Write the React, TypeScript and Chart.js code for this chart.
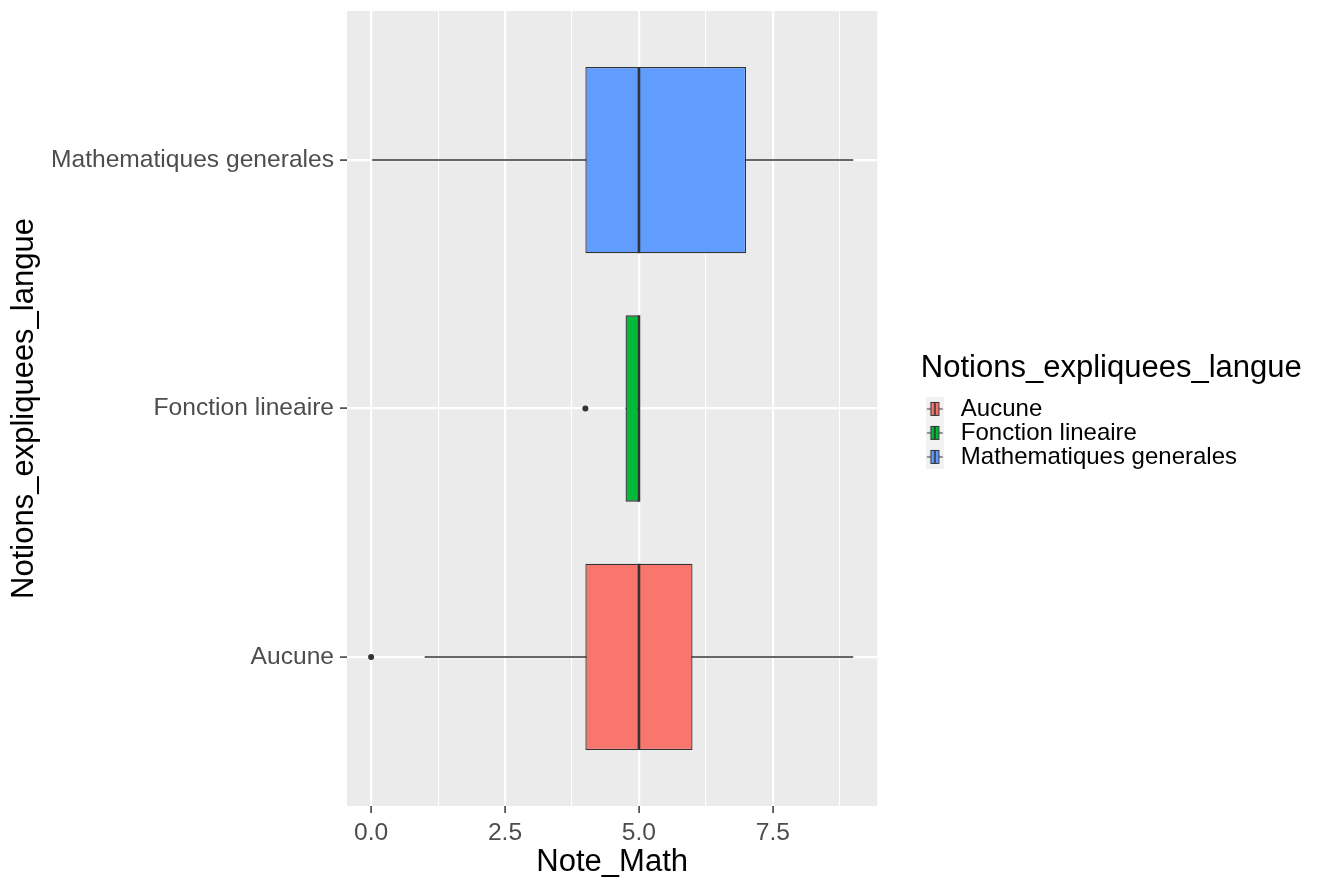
import React, { useEffect, useRef } from 'react';
import { Chart, registerables } from 'chart.js';

Chart.register(...registerables);

// ---- data ----
const categories = ['Aucune', 'Fonction lineaire', 'Mathematiques generales'];
const whiskerLow = [1, 4.75, 0];
const q1 = [4, 4.75, 4];
const median = [5, 5, 5];
const q3 = [6, 5, 7];
const whiskerHigh = [9, 5, 9];
const outlierCategory = [0, 1];
const outlierValue = [0, 4];
const fillColors = ['#F8766D', '#00BA38', '#619CFF'];
const xMajorTicks = [0, 2.5, 5, 7.5];
const xMinorTicks = [1.25, 3.75, 6.25, 8.75];
const xTickLabels = ['0.0', '2.5', '5.0', '7.5'];

const FONT = "'Liberation Sans', Arial, Helvetica, sans-serif";
const TEXT_SIZE = 24.6;
const TITLE_SIZE = 31;
const BOX_FRACTION = 0.75;

function makeKey(color: string): HTMLCanvasElement {
  const c = document.createElement('canvas');
  c.width = 18;
  c.height = 24;
  const g = c.getContext('2d')!;
  g.fillStyle = '#f2f2f2';
  g.fillRect(0, 0, 18, 24);
  g.strokeStyle = '#333333';
  g.lineWidth = 1;
  g.beginPath();
  g.moveTo(1, 12);
  g.lineTo(17, 12);
  g.stroke();
  g.fillStyle = color;
  g.fillRect(5, 5.5, 8, 13);
  g.strokeRect(5, 5.5, 8, 13);
  g.lineWidth = 1.6;
  g.beginPath();
  g.moveTo(9, 5.5);
  g.lineTo(9, 18.5);
  g.stroke();
  return c;
}

const panelBackground = {
  id: 'panelBackground',
  beforeDraw(chart: any) {
    const { ctx, chartArea } = chart;
    ctx.save();
    ctx.fillStyle = '#ebebeb';
    ctx.fillRect(chartArea.left, chartArea.top, chartArea.right - chartArea.left, chartArea.bottom - chartArea.top);
    ctx.restore();
  },
};

// let the legend title run past the item column (as in ggplot)
const widenLegend = {
  id: 'widenLegend',
  afterLayout(chart: any) {
    const lg = chart.legend;
    if (lg) {
      lg.right = chart.width;
      lg.width = chart.width - lg.left;
    }
  },
};

export default function App() {
  const ref = useRef<HTMLCanvasElement>(null);

  useEffect(() => {
    if (!ref.current) return;
    const keys = fillColors.map(makeKey);
    const isMajor = (v: number) => xMajorTicks.includes(v);
    const halfBox = (ctx: any) => {
      const s = ctx.chart.scales.y;
      return Math.abs(s.getPixelForValue(1) - s.getPixelForValue(0)) * BOX_FRACTION / 2;
    };

    const chart = new Chart(ref.current, {
      type: 'bar',
      data: {
        datasets: [
          {
            type: 'scatter',
            label: 'outliers',
            data: outlierValue.map((v, i) => ({ x: v, y: outlierCategory[i] })),
            pointRadius: 3,
            pointBackgroundColor: '#333333',
            pointBorderWidth: 0,
            order: 0,
          } as any,
          {
            type: 'scatter',
            label: 'medians',
            data: median.map((v, i) => ({ x: v, y: i })),
            pointStyle: 'line',
            rotation: 90,
            pointRadius: halfBox,
            pointBorderColor: '#333333',
            pointBorderWidth: 2.6,
            order: 0,
          } as any,
          {
            label: 'box',
            data: categories.map((_, i) => ({ y: i, x: [q1[i], q3[i]] })),
            backgroundColor: fillColors,
            borderColor: '#333333',
            borderWidth: 1.3,
            borderSkipped: false,
            barPercentage: BOX_FRACTION,
            categoryPercentage: 1,
            grouped: false,
            order: 1,
          },
          {
            label: 'whiskers',
            data: categories.map((_, i) => ({ y: i, x: [whiskerLow[i], whiskerHigh[i]] })),
            backgroundColor: '#333333',
            borderWidth: 0,
            inflateAmount: 0,
            barThickness: 1.5,
            grouped: false,
            order: 2,
          },
        ],
      },
      options: {
        indexAxis: 'y',
        responsive: false,
        animation: false,
        events: [],
        layout: { padding: { top: 11, right: 74, bottom: 0, left: 0 } },
        font: { family: FONT },
        scales: {
          x: {
            type: 'linear',
            min: -0.45,
            max: 9.45,
            beginAtZero: false,
            afterBuildTicks: (scale: any) => {
              scale.ticks = [...xMajorTicks, ...xMinorTicks].sort((a, b) => a - b).map((v) => ({ value: v }));
            },
            afterFit: (scale: any) => {
              scale.height = 76;
              scale.paddingLeft = 0;
              scale.paddingRight = 0;
            },
            ticks: {
              autoSkip: false,
              maxRotation: 0,
              padding: 5.6,
              color: '#4d4d4d',
              font: { family: FONT, size: TEXT_SIZE },
              callback: (v: any) => {
                const idx = xMajorTicks.indexOf(Number(v));
                return idx >= 0 ? xTickLabels[idx] : '';
              },
            },
            grid: {
              color: '#ffffff',
              lineWidth: (ctx: any) => (ctx.tick && isMajor(ctx.tick.value) ? 2.2 : 1.1),
              tickColor: (ctx: any) => (ctx.tick && isMajor(ctx.tick.value) ? '#333333' : 'rgba(0,0,0,0)'),
              tickLength: 7,
              tickWidth: 1.5,
            },
            border: { display: false },
            title: {
              display: true,
              text: 'Note_Math',
              color: '#000000',
              font: { family: FONT, size: TITLE_SIZE },
              padding: { top: 0, bottom: 1 },
            },
          },
          y: {
            type: 'linear',
            min: -0.6,
            max: 2.6,
            offset: false,
            beginAtZero: false,
            afterBuildTicks: (scale: any) => {
              scale.ticks = categories.map((_, i) => ({ value: i }));
            },
            afterFit: (scale: any) => {
              scale.width = 347;
              scale.paddingTop = 0;
              scale.paddingBottom = 0;
            },
            ticks: {
              autoSkip: false,
              padding: 6,
              color: '#4d4d4d',
              font: { family: FONT, size: TEXT_SIZE },
              callback: (v: any) => categories[Number(v)] ?? '',
            },
            grid: {
              offset: false,
              color: '#ffffff',
              lineWidth: 2.2,
              tickColor: '#333333',
              tickLength: 7,
              tickWidth: 1.5,
            },
            border: { display: false },
            title: {
              display: true,
              text: 'Notions_expliquees_langue',
              color: '#000000',
              font: { family: FONT, size: TITLE_SIZE },
              padding: { top: 5.5, bottom: 0 },
            },
          },
          gap: {
            type: 'linear',
            position: 'right',
            display: true,
            grid: { display: false, drawTicks: false },
            ticks: { display: false },
            border: { display: false },
            afterFit: (scale: any) => {
              scale.width = 43.5;
              scale.paddingTop = 0;
              scale.paddingBottom = 0;
            },
          },
        },
        plugins: {
          tooltip: { enabled: false },
          legend: {
            display: true,
            position: 'right',
            align: 'start',
            maxWidth: 600,
            title: {
              display: true,
              text: 'Notions_expliquees_langue',
              color: '#000000',
              position: 'start',
              font: { family: FONT, size: TITLE_SIZE },
              padding: { top: 341.5, bottom: 7.2 },
            },
            labels: {
              usePointStyle: true,
              pointStyleWidth: 28,
              padding: 0,
              color: '#000000',
              font: { family: FONT, size: 24 },
              generateLabels: () =>
                categories.map((c, i) => ({
                  text: c,
                  fillStyle: fillColors[i],
                  strokeStyle: '#333333',
                  lineWidth: 0,
                  pointStyle: keys[i],
                  fontColor: '#000000',
                  hidden: false,
                  index: i,
                })) as any,
            },
          },
        },
      } as any,
      plugins: [panelBackground, widenLegend],
    });

    return () => chart.destroy();
  }, []);

  return (
    <div style={{ position: 'absolute', left: 0, top: 0, width: 1321, height: 882, background: '#ffffff' }}>
      <canvas ref={ref} width={1321} height={882} style={{ display: 'block' }} />
    </div>
  );
}
